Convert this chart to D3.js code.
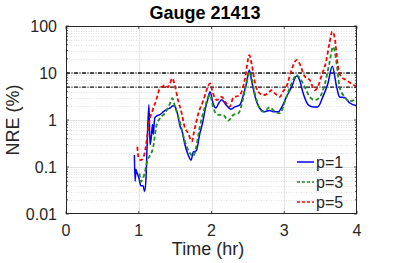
<!DOCTYPE html>
<html><head><meta charset="utf-8">
<script src="https://cdn.jsdelivr.net/npm/d3@7"></script>
<style>body{margin:0;background:#fff}svg{display:block}text{font-family:"Liberation Sans",Arial,sans-serif;fill:#262626}</style>
</head><body><svg id="c" width="395" height="263"></svg>
<script>
const title = "Gauge 21413";
const xLabel = "Time (hr)";
const yLabel = "NRE (%)";
const xTicks = [0,1,2,3,4];
const yTicks = [0.01,0.1,1,10,100];
const yTickLabels = ["0.01","0.1","1","10","100"];
const thresholds = [10,5];
const seriesNames = ["p=1","p=3","p=5"];
const seriesColors = ["#0000ff","#1f8c1f","#ff0000"];
const p1 = [[0.94,0.18],[0.95,0.05],[0.96,0.09],[0.97,0.08],[1.0,0.06],[1.03,0.04],[1.06,0.04],[1.08,0.03],[1.1,0.06],[1.12,0.5],[1.14,2.1],[1.155,0.3],[1.17,0.4],[1.19,0.8],[1.2,0.5],[1.22,1.1],[1.24,1.2],[1.29,1.3],[1.34,1.5],[1.39,1.7],[1.43,1.8],[1.47,2.0],[1.5,1.9],[1.53,1.4],[1.57,0.72],[1.6,0.55],[1.63,0.32],[1.68,0.18],[1.72,0.14],[1.75,0.21],[1.79,0.22],[1.84,0.52],[1.88,0.9],[1.91,1.6],[1.95,2.8],[1.98,4.0],[2.02,2.3],[2.06,1.8],[2.1,2.3],[2.14,2.7],[2.2,2.1],[2.27,1.7],[2.32,1.9],[2.39,2.1],[2.43,3.1],[2.48,6],[2.52,11.6],[2.55,7],[2.6,3.1],[2.66,1.8],[2.73,1.5],[2.8,1.6],[2.85,1.5],[2.92,1.5],[2.96,1.8],[3.03,3.1],[3.1,5],[3.17,8.6],[3.21,7.1],[3.26,3.7],[3.33,2.1],[3.4,1.9],[3.46,1.9],[3.53,3.1],[3.6,6],[3.66,14],[3.72,5.1],[3.76,3.1],[3.83,3.0],[3.9,2.3],[4.0,2.0]];
const p3 = [[1.01,0.073],[1.03,0.049],[1.08,0.073],[1.12,0.14],[1.15,0.17],[1.2,0.27],[1.24,0.72],[1.29,1.08],[1.36,1.39],[1.43,2.26],[1.46,2.9],[1.5,1.9],[1.57,0.85],[1.63,0.37],[1.7,0.2],[1.75,0.17],[1.79,0.27],[1.84,0.72],[1.91,1.9],[1.98,3.4],[2.02,1.9],[2.09,1.28],[2.16,1.28],[2.23,0.97],[2.3,1.28],[2.37,1.39],[2.43,2.66],[2.48,6],[2.53,10.7],[2.57,5.5],[2.62,2.66],[2.66,1.8],[2.71,1.5],[2.8,1.86],[2.87,1.5],[2.94,1.4],[3.03,3.1],[3.1,6],[3.17,9],[3.21,8],[3.28,5.1],[3.35,3.1],[3.42,2.66],[3.49,3.1],[3.56,6],[3.62,16],[3.67,36],[3.72,16],[3.76,5.1],[3.83,3.1],[3.9,2.5],[4.0,2.9]];
const p5 = [[0.98,0.27],[1.0,0.15],[1.03,0.14],[1.07,0.17],[1.11,0.37],[1.14,0.85],[1.19,1.6],[1.24,2.66],[1.29,4.7],[1.33,5.2],[1.36,5.5],[1.4,5.0],[1.43,6.0],[1.46,7.7],[1.5,5.1],[1.54,2.66],[1.59,1.4],[1.63,0.72],[1.68,0.52],[1.73,0.35],[1.76,0.56],[1.82,1.39],[1.89,2.66],[1.95,5.1],[1.98,6.0],[2.02,3.7],[2.07,2.66],[2.14,3.1],[2.2,2.3],[2.25,1.9],[2.3,3.0],[2.39,3.4],[2.46,7.5],[2.52,24],[2.55,16],[2.6,6],[2.64,4],[2.71,3.4],[2.78,3.7],[2.82,4.3],[2.87,3.7],[2.94,3.1],[2.98,4.0],[3.03,5.1],[3.1,11.6],[3.17,19],[3.21,16],[3.28,8.5],[3.35,7.1],[3.42,4.3],[3.46,5.0],[3.51,8.5],[3.58,19],[3.62,42],[3.66,76],[3.69,60],[3.74,13.6],[3.78,8.4],[3.85,7.1],[3.92,6.0],[4.0,5.1]];
const seriesData = [p1,p3,p5];

const svg = d3.select("#c");
const L=66, R=357, T=26, B=214;
const x = d3.scaleLinear().domain([0,4]).range([L,R]);
const y = d3.scaleLog().domain([0.01,100]).range([B,T]);

// grid
const minor = [];
for (let e=-2;e<2;e++) for (let m=2;m<=9;m++) minor.push(m*Math.pow(10,e));
const g = svg.append("g");
g.selectAll(".mn").data(minor).enter().append("line")
 .attr("x1",L).attr("x2",R).attr("y1",d=>Math.round(y(d))+0.5).attr("y2",d=>Math.round(y(d))+0.5)
 .attr("stroke","#d8d8d8").attr("stroke-width",0.8).attr("stroke-dasharray","1,1.5");
g.selectAll(".mj").data(yTicks.slice(1,-1)).enter().append("line")
 .attr("x1",L).attr("x2",R).attr("y1",d=>Math.round(y(d))+0.5).attr("y2",d=>Math.round(y(d))+0.5)
 .attr("stroke","#e2e2e2").attr("stroke-width",1);
g.selectAll(".vx").data(xTicks.slice(1,-1)).enter().append("line")
 .attr("y1",T).attr("y2",B).attr("x1",d=>Math.round(x(d))+0.5).attr("x2",d=>Math.round(x(d))+0.5)
 .attr("stroke","#e2e2e2").attr("stroke-width",1);

// thresholds
svg.selectAll(".th").data(thresholds).enter().append("line")
 .attr("x1",L).attr("x2",R).attr("y1",d=>y(d)).attr("y2",d=>y(d))
 .attr("stroke","#111").attr("stroke-width",1.4).attr("stroke-dasharray","4,1.5,1,1.5");

// series
const line = d3.line().x(d=>x(d[0])).y(d=>y(d[1])).curve(d3.curveMonotoneX);
svg.append("clipPath").attr("id","cp").append("rect").attr("x",L).attr("y",T).attr("width",R-L).attr("height",B-T);
svg.selectAll(".s").data(seriesData).enter().append("path")
 .attr("d",line).attr("fill","none").attr("clip-path","url(#cp)")
 .attr("stroke",(d,i)=>seriesColors[i]).attr("stroke-width",(d,i)=>i===0?1.5:1.8)
 .attr("stroke-dasharray",(d,i)=>i===0?null:"4,2.5");

// axes box and ticks
svg.append("rect").attr("x",L+0.5).attr("y",T+0.5).attr("width",R-L-1).attr("height",B-T-1)
 .attr("fill","none").attr("stroke","#262626").attr("stroke-width",1);
const ax = svg.append("g").attr("stroke","#262626").attr("stroke-width",0.8);
minor.forEach(d=>{const yy=y(d);
 ax.append("line").attr("x1",L).attr("x2",L+2).attr("y1",yy).attr("y2",yy);
 ax.append("line").attr("x1",R).attr("x2",R-2).attr("y1",yy).attr("y2",yy);});
yTicks.forEach(d=>{const yy=y(d);
 ax.append("line").attr("x1",L).attr("x2",L+3).attr("y1",yy).attr("y2",yy);
 ax.append("line").attr("x1",R).attr("x2",R-3).attr("y1",yy).attr("y2",yy);});
xTicks.forEach(d=>{const xx=x(d);
 ax.append("line").attr("x1",xx).attr("x2",xx).attr("y1",B).attr("y2",B-3);
 ax.append("line").attr("x1",xx).attr("x2",xx).attr("y1",T).attr("y2",T+3);});

// labels
svg.selectAll(".yl").data(yTicks).enter().append("text")
 .attr("x",L-9).attr("y",d=>y(d)+5.5).attr("text-anchor","end").attr("font-size",16)
 .text((d,i)=>yTickLabels[i]);
svg.selectAll(".xl").data(xTicks).enter().append("text")
 .attr("x",d=>x(d)).attr("y",B+22).attr("text-anchor","middle").attr("font-size",16)
 .text(d=>d);
svg.append("text").attr("x",208).attr("y",255).attr("text-anchor","middle").attr("font-size",18).text(xLabel);
svg.append("text").attr("transform","translate(19,120) rotate(-90)").attr("text-anchor","middle").attr("font-size",18).text(yLabel);
svg.append("text").attr("x",205).attr("y",19).attr("text-anchor","middle").attr("font-size",18).attr("font-weight","bold").style("fill","#000").text(title);

// legend
const lg = svg.append("g");
seriesNames.forEach((n,i)=>{const yy=162+i*20;
 lg.append("line").attr("x1",297).attr("x2",314).attr("y1",yy).attr("y2",yy)
  .attr("stroke",seriesColors[i]).attr("stroke-width",1.5).attr("stroke-dasharray",i===0?null:"3,2");
 lg.append("text").attr("x",316).attr("y",yy+6).attr("font-size",16).text(n);});
</script></body></html>
